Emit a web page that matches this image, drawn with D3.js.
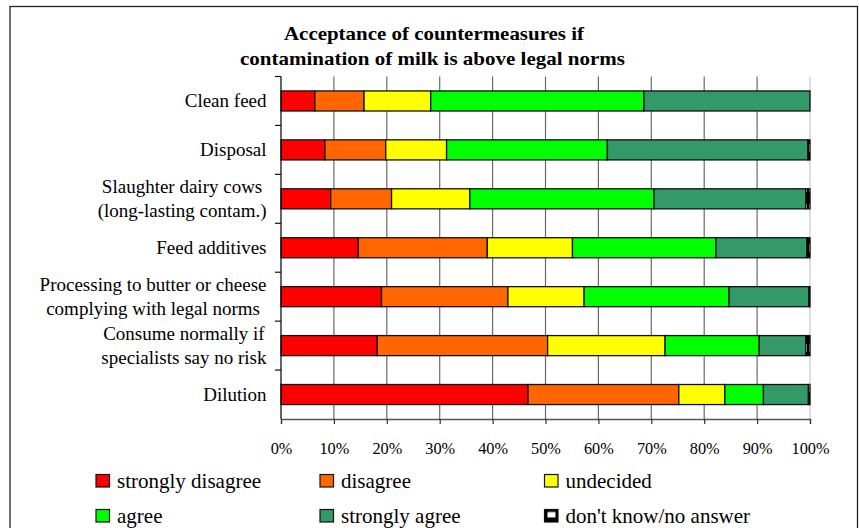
<!DOCTYPE html>
<html>
<head>
<meta charset="utf-8">
<script src="https://cdn.jsdelivr.net/npm/d3@7"></script>
<style>
  html, body { margin: 0; padding: 0; background: #fff; }
  svg { display: block; }
  text { font-family: "Liberation Serif", "Times New Roman", serif; fill: #000; }
</style>
</head>
<body>
<svg id="chart" width="859" height="528"></svg>
<script>
// ---- data ----
const categories = [
  "Clean feed",
  "Disposal",
  "Slaughter dairy cows|(long-lasting contam.)",
  "Feed additives",
  "Processing to butter or cheese|complying with legal norms",
  "Consume normally if|specialists say no risk",
  "Dilution"
];
const seriesNames = ["strongly disagree", "disagree", "undecided", "agree", "strongly agree", "don't know/no answer"];
const stronglyDisagree = [6.4, 8.3, 9.4, 14.6, 19.0, 18.2, 46.7];
const disagree         = [9.3, 11.5, 11.5, 24.4, 23.9, 32.2, 28.5];
const undecided        = [12.6, 11.5, 14.8, 16.1, 14.4, 22.2, 8.7];
const agree            = [40.3, 30.4, 34.8, 27.1, 27.4, 17.8, 7.3];
const stronglyAgree    = [31.4, 37.9, 28.7, 17.2, 15.1, 8.8, 8.5];
const dontKnow         = [0, 0.4, 0.8, 0.6, 0.2, 0.8, 0.3];
const tickValues = [0, 10, 20, 30, 40, 50, 60, 70, 80, 90, 100];
const titleLines = ["Acceptance of countermeasures if", "contamination of milk is above legal norms"];

const colors = ["#FF0000", "#FF6600", "#FFFF00", "#00FF00", "#339966", "url(#dkPattern)"];

const seriesValues = [stronglyDisagree, disagree, undecided, agree, stronglyAgree, dontKnow];
const rows = categories.map((c, i) => {
  const r = { category: c };
  seriesNames.forEach((s, j) => r[s] = seriesValues[j][i]);
  return r;
});

// ---- layout ----
const svg = d3.select("#chart");
const plot = { left: 281, right: 810, top: 76.5, bottom: 419 };

const defs = svg.append("defs");
const pat = defs.append("pattern").attr("id", "dkPattern")
  .attr("patternUnits", "userSpaceOnUse").attr("width", 4).attr("height", 20);
pat.append("rect").attr("width", 4).attr("height", 20).attr("fill", "#000");
pat.append("rect").attr("x", 1.2).attr("y", 4).attr("width", 1.6).attr("height", 8).attr("fill", "#fff");

const legPat = defs.append("pattern").attr("id", "dkLegend")
  .attr("patternUnits", "objectBoundingBox").attr("width", 1).attr("height", 1);
legPat.append("rect").attr("width", 14).attr("height", 13).attr("fill", "#000");
legPat.append("rect").attr("x", 3).attr("y", 2.5).attr("width", 8).attr("height", 5.5).attr("fill", "#fff");

// outer frame
svg.append("rect").attr("x", 10).attr("y", 6.5).attr("width", 847.5).attr("height", 540)
  .attr("fill", "none").attr("stroke", "#222").attr("stroke-width", 1.3);

const x = d3.scaleLinear().domain([0, 100]).range([plot.left, plot.right]);
const y = d3.scaleBand().domain(categories).range([plot.top, plot.bottom])
  .paddingInner(0.59).paddingOuter(0.295);
const step = y.step();

// gridlines
svg.append("g").selectAll("line").data(tickValues.filter(d => d > 0)).join("line")
  .attr("x1", d => x(d)).attr("x2", d => x(d))
  .attr("y1", plot.top).attr("y2", plot.bottom)
  .attr("stroke", d => d === 100 ? "#c8c8c8" : "#6a6a6a").attr("stroke-width", 1.2);

// bars
const stack = d3.stack().keys(seriesNames);
const stacked = stack(rows);
svg.append("g").selectAll("g").data(stacked).join("g")
  .attr("fill", (d, i) => colors[i])
  .selectAll("rect").data(d => d.filter(p => p[1] - p[0] > 0)).join("rect")
  .attr("x", d => x(d[0]))
  .attr("width", d => x(d[1]) - x(d[0]))
  .attr("y", d => y(d.data.category))
  .attr("height", y.bandwidth())
  .attr("stroke", "#111").attr("stroke-width", 1.3);

// x axis
const xAxis = d3.axisBottom(x).tickValues(tickValues).tickFormat(d => d + "%").tickSize(5).tickPadding(18);
const gx = svg.append("g").attr("transform", `translate(0,${plot.bottom})`).call(xAxis);
gx.select(".domain").attr("stroke", "#555").attr("stroke-width", 1.3);
gx.selectAll(".tick line").attr("stroke", "#333").attr("stroke-width", 1.2);
gx.selectAll(".tick text").attr("font-size", 16.3).attr("font-family", "Liberation Serif").attr("fill", "#000");

// y axis line + boundary ticks
svg.append("line").attr("x1", plot.left).attr("x2", plot.left)
  .attr("y1", plot.top).attr("y2", plot.bottom).attr("stroke", "#111").attr("stroke-width", 1.3);
svg.append("g").selectAll("line").data(d3.range(categories.length)).join("line")
  .attr("x1", plot.left - 6).attr("x2", plot.left)
  .attr("y1", i => plot.top + i * step).attr("y2", i => plot.top + i * step)
  .attr("stroke", "#111").attr("stroke-width", 1.2);

// category labels
const labelRight = 266.5;
const lineH = 23.7;
const fsCat = 19;
categories.forEach(c => {
  const lines = c.split("|");
  const cy = y(c) + y.bandwidth() / 2;
  const g = svg.append("g");
  const texts = lines.map((ln, i) => g.append("text")
    .attr("font-size", fsCat)
    .attr("y", cy + 6.5 + (i - (lines.length - 1) / 2) * lineH)
    .text(ln));
  const w = d3.max(texts, t => t.node().getComputedTextLength());
  texts.forEach(t => t.attr("text-anchor", "middle").attr("x", labelRight - w / 2));
});

// title
svg.append("text").attr("x", 434).attr("y", 40).attr("text-anchor", "middle")
  .attr("font-size", 19.5).attr("font-weight", "bold")
  .attr("textLength", 300).attr("lengthAdjust", "spacingAndGlyphs")
  .text(titleLines[0]);
svg.append("text").attr("x", 432.5).attr("y", 65.3).attr("text-anchor", "middle")
  .attr("font-size", 19.5).attr("font-weight", "bold")
  .attr("textLength", 385).attr("lengthAdjust", "spacingAndGlyphs")
  .text(titleLines[1]);

// legend
const legX = [96, 320, 544.5];
const legY = [474.5, 509.5];
const legend = svg.append("g");
seriesNames.forEach((s, i) => {
  const col = i % 3, row = Math.floor(i / 3);
  legend.append("rect").attr("x", legX[col]).attr("y", legY[row])
    .attr("width", 13.5).attr("height", 12.5)
    .attr("fill", i === 5 ? "url(#dkLegend)" : colors[i])
    .attr("stroke", "#111").attr("stroke-width", 1.2);
  legend.append("text").attr("x", legX[col] + 21).attr("y", legY[row] + 13)
    .attr("font-size", 21).text(s);
});
</script>
</body>
</html>
